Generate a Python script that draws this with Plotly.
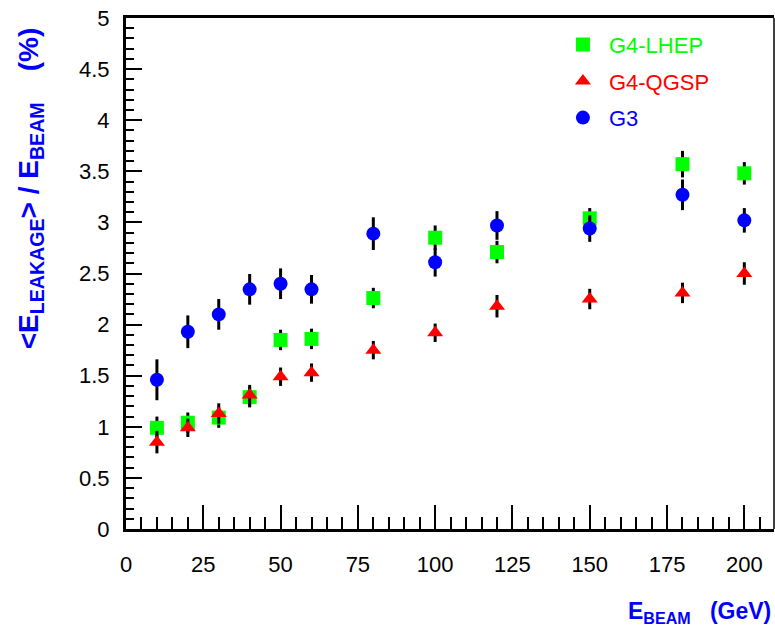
import plotly.graph_objects as go

energies = [10, 20, 30, 40, 50, 60, 80, 100, 120, 150, 180, 200]

lhep_vals = [0.99, 1.04, 1.09, 1.29, 1.85, 1.86, 2.26, 2.85, 2.71, 3.04, 3.57, 3.48]
lhep_errs = [0.11, 0.10, 0.10, 0.10, 0.10, 0.10, 0.10, 0.12, 0.11, 0.10, 0.13, 0.11]

qgsp_vals = [0.85, 0.99, 1.13, 1.31, 1.49, 1.53, 1.75, 1.92, 2.18, 2.25, 2.31, 2.50]
qgsp_errs = [0.11, 0.09, 0.10, 0.10, 0.09, 0.09, 0.09, 0.09, 0.11, 0.10, 0.10, 0.11]

g3_vals = [1.46, 1.93, 2.10, 2.345, 2.40, 2.345, 2.89, 2.61, 2.97, 2.94, 3.27, 3.02]
g3_errs = [0.20, 0.16, 0.15, 0.15, 0.15, 0.14, 0.16, 0.14, 0.14, 0.13, 0.15, 0.12]

series = [
    ("G4-LHEP", lhep_vals, lhep_errs, "#00ff00", "square"),
    ("G4-QGSP", qgsp_vals, qgsp_errs, "#ff0000", "triangle-up"),
    ("G3", g3_vals, g3_errs, "#0000ff", "circle"),
]

FONT = "Liberation Sans, Arial, sans-serif"

fig = go.Figure()
for name, vals, errs, color, sym in series:
    fig.add_trace(go.Scatter(
        x=energies, y=vals, mode="markers",
        name=f'<span style="color:{color}">{name}</span>',
        legendgroup=name,
        marker=dict(symbol=sym, color=color, size=14, line=dict(width=0)),
        error_y=dict(type="data", array=errs, visible=True, color="black",
                     thickness=3, width=0),
    ))

fig.update_layout(
    width=775, height=640,
    margin=dict(l=126, r=1, t=18, b=111),
    paper_bgcolor="white", plot_bgcolor="white",
    font=dict(family=FONT, size=21, color="black"),
    showlegend=True,
    legend=dict(x=0.665, y=0.989, xanchor="left", yanchor="top",
                bgcolor="rgba(0,0,0,0)", borderwidth=0,
                font=dict(family=FONT, size=22),
                tracegroupgap=5, itemwidth=42, itemsizing="trace"),
)

fig.update_xaxes(
    range=[0, 209.6], showgrid=False, zeroline=False,
    showline=True, linewidth=3, linecolor="black", mirror=True,
    ticks="inside", ticklen=24, tickwidth=2, tickcolor="black",
    tick0=0, dtick=25, ticklabelstandoff=14, ticklabeloverflow="allow",
    tickfont=dict(family=FONT, size=22),
    minor=dict(ticks="inside", ticklen=12, tickwidth=2, tickcolor="black", dtick=5, tick0=0),
)
fig.update_yaxes(
    range=[0, 5], showgrid=False, zeroline=False,
    showline=True, linewidth=3, linecolor="black", mirror=False,
    ticks="inside", ticklen=16, tickwidth=2, tickcolor="black",
    tick0=0, dtick=0.5, ticklabelstandoff=9, ticklabeloverflow="allow",
    tickfont=dict(family=FONT, size=22),
    minor=dict(ticks="inside", ticklen=8, tickwidth=2, tickcolor="black", dtick=0.1, tick0=0),
)

# right frame edge
fig.add_shape(type="line", xref="paper", yref="paper", x0=1, x1=1, y0=0, y1=1,
              line=dict(color="black", width=1.5))

# axis titles
fig.add_annotation(
    xref="paper", yref="paper", x=-0.148, y=0.667, xanchor="center", yanchor="middle",
    textangle=-90, showarrow=False,
    text="&lt;E<sub>LEAKAGE</sub>&gt; / E<sub>BEAM</sub>&nbsp;&nbsp;&nbsp;&nbsp;(%)",
    font=dict(family=FONT, size=28, color="#0000ff", weight="bold"),
)
fig.add_annotation(
    xref="paper", yref="paper", x=1.0, y=-0.164, xanchor="right", yanchor="middle",
    showarrow=False, xshift=-1,
    text="E<sub>BEAM</sub>&nbsp;&nbsp;&nbsp;(GeV)",
    font=dict(family=FONT, size=23, color="#0000ff", weight="bold"),
)

fig.write_html(
    "out.html",
    config={"displayModeBar": False},
    post_script="document.body.style.margin='0';document.body.style.overflow='hidden';",
)
